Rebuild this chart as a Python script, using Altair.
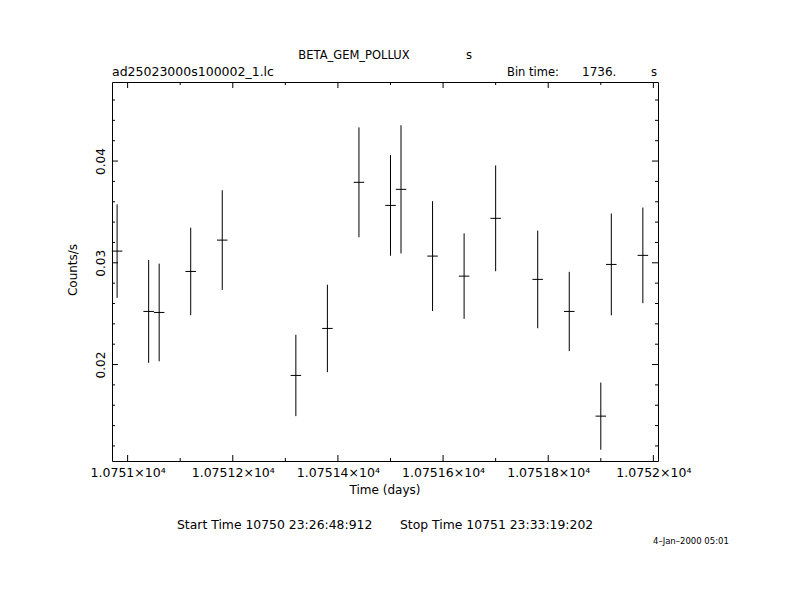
import altair as alt
import pandas as pd

# ---- data ----
times = [10750.98, 10751.04, 10751.06, 10751.12, 10751.18, 10751.32, 10751.38,
         10751.44, 10751.50, 10751.52, 10751.58, 10751.64, 10751.70, 10751.78,
         10751.84, 10751.90, 10751.92, 10751.98]
rates = [0.03115, 0.02522, 0.02512, 0.02915, 0.03223, 0.01893, 0.02355,
         0.03791, 0.03564, 0.03722, 0.03066, 0.02869, 0.03437, 0.02837,
         0.02522, 0.01493, 0.02984, 0.03073]
errs = [0.0046, 0.00505, 0.0048, 0.0043, 0.0049, 0.0040, 0.0043,
        0.0054, 0.00495, 0.0063, 0.0054, 0.0042, 0.0052, 0.0048,
        0.0039, 0.0033, 0.0050, 0.0047]
half_bin = 0.01  # days (bin time 1736 s)

x_major = [10751.0, 10751.2, 10751.4, 10751.6, 10751.8, 10752.0]
x_minor = [10751.1, 10751.3, 10751.5, 10751.7, 10751.9]
y_major = [0.02, 0.03, 0.04]
y_minor = [0.012, 0.014, 0.016, 0.018, 0.022, 0.024, 0.026, 0.028,
           0.032, 0.034, 0.036, 0.038, 0.042, 0.044, 0.046]

x_domain = [10750.9703, 10752.0088]
y_domain = [0.01052, 0.04777]

title_text = "BETA_GEM_POLLUX"
title_unit = "s"
file_text = "ad25023000s100002_1.lc"
bin_label = "Bin time:"
bin_value = "1736."
bin_unit = "s"
y_title = "Counts/s"
x_title = "Time (days)"
start_text = "Start Time 10750 23:26:48:912"
stop_text = "Stop Time 10751 23:33:19:202"
date_text = "4\u2013Jan\u20132000 05:01"

FONT = "DejaVu Sans"
W, H = 546, 379
MAJ, MIN = 6, 3

xs = alt.Scale(domain=x_domain, nice=False, zero=False)
ys = alt.Scale(domain=y_domain, nice=False, zero=False)

x_axis = alt.Axis(
    values=x_major, ticks=False, tickSize=0, domain=False, grid=False, title=None,
    labelExpr="format(datum.value / 10000, '.5~f') + '\u00d710\u2074'",
    labelFont=FONT, labelFontSize=12.5, labelColor="black", labelPadding=5,
    labelFlush=False, labelOverlap=False)
y_axis = alt.Axis(
    values=y_major, ticks=False, tickSize=0, domain=False, grid=False, title=None,
    labelAngle=270, labelFont=FONT, labelFontSize=12, labelColor="black",
    labelPadding=5, labelFlush=False, labelOverlap=False, format=".2f")

df = pd.DataFrame({"t": times, "rate": rates, "err": errs})

errbars = alt.Chart(df).transform_calculate(
    lo="datum.rate - datum.err", hi="datum.rate + datum.err"
).mark_rule(color="black", strokeWidth=1).encode(
    x=alt.X("t:Q", scale=xs, axis=x_axis),
    y=alt.Y("lo:Q", scale=ys, axis=y_axis),
    y2="hi:Q",
)

hbars = alt.Chart(df).transform_calculate(
    t0=f"datum.t - {half_bin}", t1=f"datum.t + {half_bin}"
).mark_rule(color="black", strokeWidth=1).encode(
    x=alt.X("t0:Q", scale=xs, axis=x_axis),
    x2="t1:Q",
    y=alt.Y("rate:Q", scale=ys, axis=y_axis),
)


def xticks(vals, length, top):
    d = pd.DataFrame({"v": vals})
    return alt.Chart(d).mark_rule(color="black", strokeWidth=1).encode(
        x=alt.X("v:Q", scale=xs, axis=x_axis),
        y=alt.value(0 if top else H),
        y2=alt.value(length if top else H - length),
    )


def yticks(vals, length, right):
    d = pd.DataFrame({"v": vals})
    return alt.Chart(d).mark_rule(color="black", strokeWidth=1).encode(
        y=alt.Y("v:Q", scale=ys, axis=y_axis),
        x=alt.value(W if right else 0),
        x2=alt.value(W - length if right else length),
    )


def txt(s, x, y, size, align="left", baseline="alphabetic", angle=0):
    d = pd.DataFrame({"s": [s]})
    return alt.Chart(d).mark_text(
        align=align, baseline=baseline, fontSize=size, font=FONT,
        color="black", angle=angle
    ).encode(text="s:N", x=alt.value(x), y=alt.value(y))


layers = [
    errbars, hbars,
    xticks(x_major, MAJ, False), xticks(x_minor, MIN, False),
    xticks(x_major, MAJ, True), xticks(x_minor, MIN, True),
    yticks(y_major, MAJ, False), yticks(y_minor, MIN, False),
    yticks(y_major, MAJ, True), yticks(y_minor, MIN, True),
    txt(title_text, 242, -23, 11.5, align="center"),
    txt(title_unit, 357, -23, 11.5, align="center"),
    txt(file_text, 0, -6, 12.5),
    txt(bin_label, 395, -6, 11.5),
    txt(bin_value, 470, -6, 12),
    txt(bin_unit, 539, -6, 11.5),
    txt(y_title, -39, 188, 12, align="center", baseline="middle", angle=270),
    txt(x_title, 273, 408, 12, align="center", baseline="middle"),
    txt(start_text, 65, 443, 12.4, baseline="middle"),
    txt(stop_text, 288, 443, 12.4, baseline="middle"),
    txt(date_text, 541, 459, 8.5, baseline="middle"),
]

chart = alt.layer(*layers).properties(
    width=W, height=H,
    padding={"left": 104, "top": 74, "right": 119, "bottom": 120},
    autosize=alt.AutoSizeParams(type="none"),
).configure(background="white").configure_view(stroke="black", strokeWidth=1)

chart.save("out.html", embed_options={"renderer": "svg", "actions": False})
